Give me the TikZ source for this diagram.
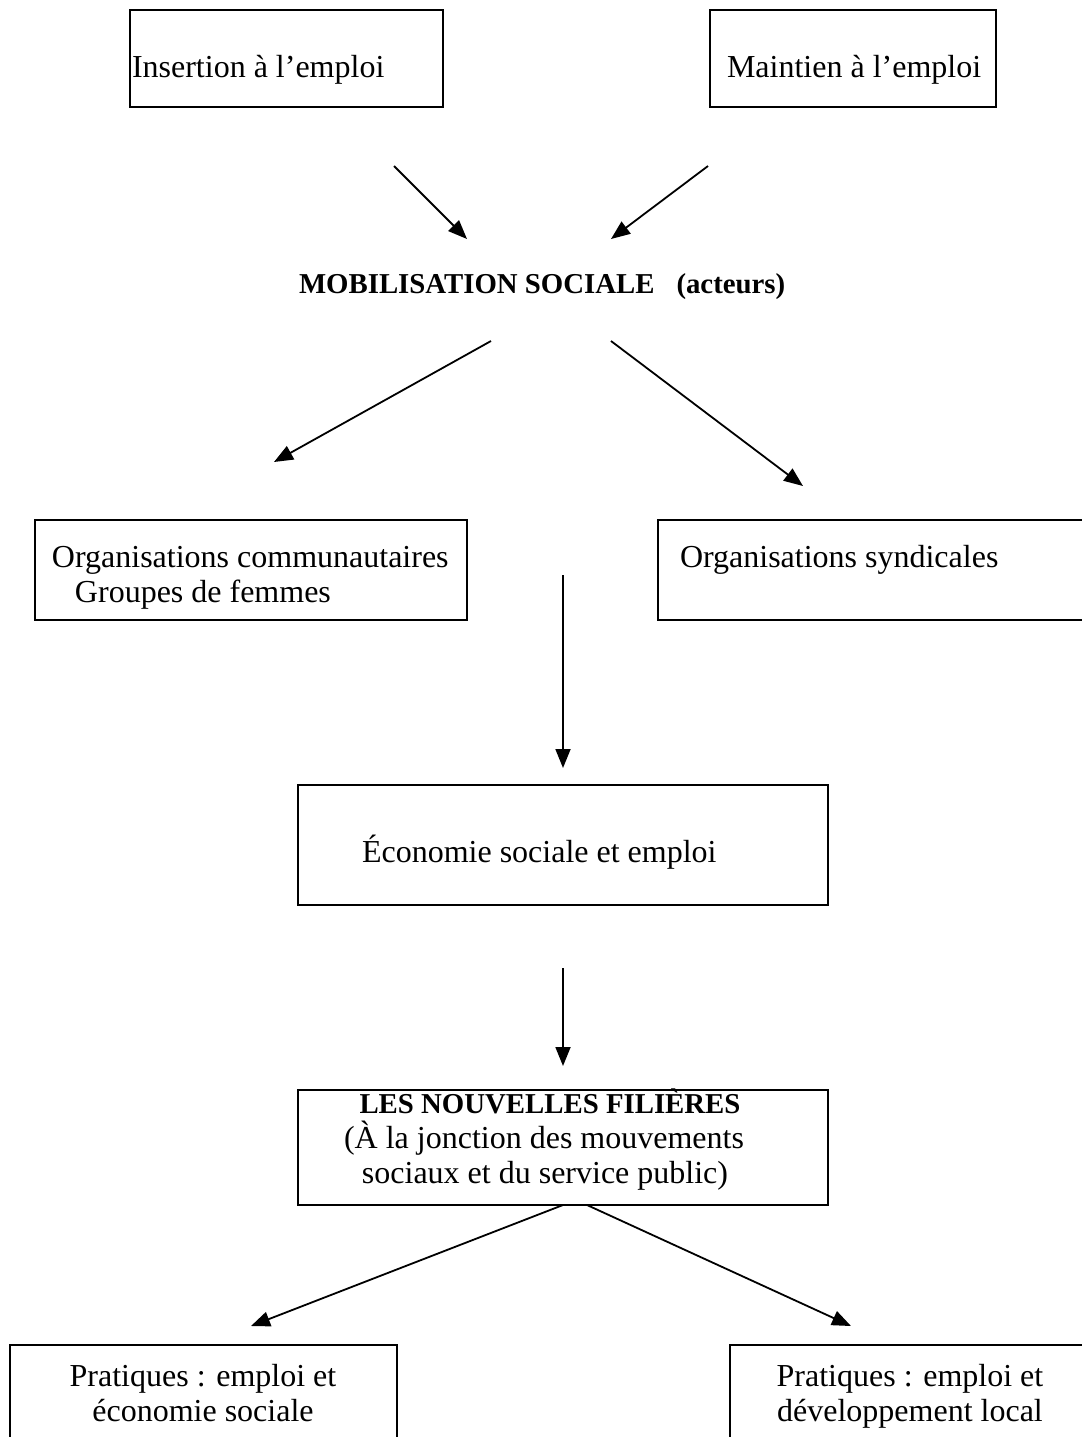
\documentclass[tikz,border=0pt]{standalone}
\usepackage{fontspec}
\setmainfont{Liberation Serif}
\usetikzlibrary{arrows.meta}
\tikzset{
  boxnode/.style 2 args={draw=black, line width=1pt, inner sep=0pt, outer sep=0pt,
    minimum width=#1, minimum height=#2},
  txt/.style={inner sep=0pt, outer sep=0pt, font=\fontsize{16}{17.5}\selectfont},
  btxt/.style={inner sep=0pt, outer sep=0pt, font=\fontsize{14.4}{17.5}\selectfont\bfseries},
  conn/.style={line width=0.9pt, -{Triangle[length=9.5pt,width=7.5pt]}}
}
\begin{document}
\begin{tikzpicture}[x=0.5pt,y=-0.5pt]
\useasboundingbox (0,0) rectangle (1082,1437);
\fill[white] (0,0) rectangle (1082,1437);
\begin{scope}
\clip (0,0) rectangle (1082,1437);
% boxes
\node[boxnode={156.5pt}{48.5pt}] (b1) at (286.5,58.5) {};
\node[boxnode={143pt}{48.5pt}] (b2) at (853,58.5) {};
\node[boxnode={216pt}{50pt}] (b3) at (251,570) {};
\node[boxnode={226pt}{50pt}] (b4) at (884,570) {};
\node[boxnode={265pt}{60pt}] (b5) at (563,845) {};
\node[boxnode={265pt}{57.5pt}] (b6) at (563,1147.5) {};
\node[boxnode={193.5pt}{62.5pt}] (b7) at (203.5,1407.5) {};
\node[boxnode={190pt}{62.5pt}] (b8) at (920,1407.5) {};
% texts
\node[txt, anchor=base west] (t1) at (132,77) {Insertion à l’emploi};
\node[txt, anchor=base west] (t2) at (727,77) {Maintien à l’emploi};
\node[btxt, anchor=base west] (mob) at (299,293) {MOBILISATION SOCIALE\hspace{11pt}(acteurs)};
\node[txt, anchor=base west] (t3a) at (52,567) {Organisations communautaires};
\node[txt, anchor=base west] (t3b) at (75,602) {Groupes de femmes};
\node[txt, anchor=base west] (t4) at (680,567) {Organisations syndicales};
\node[txt, anchor=base west] (t5) at (362,862) {Économie sociale et emploi};
\node[btxt, anchor=base] (t6a) at (550,1113) {LES NOUVELLES FILIÈRES};
\node[txt, anchor=base] (t6b) at (544,1148) {(À la jonction des mouvements};
\node[txt, anchor=base] (t6c) at (545,1183) {sociaux et du service public)};
\node[txt, anchor=base] (t7a) at (203,1386) {Pratiques : emploi et};
\node[txt, anchor=base] (t7b) at (203,1421) {économie sociale};
\node[txt, anchor=base] (t8a) at (910,1386) {Pratiques : emploi et};
\node[txt, anchor=base] (t8b) at (910,1421) {développement local};
% connector endpoints
\coordinate (a1s) at (394,166);
\coordinate (a1e) at (467,239);
\coordinate (a2s) at (708,166);
\coordinate (a2e) at (611,239);
\coordinate (a3s) at (491,341);
\coordinate (a3e) at (274,462);
\coordinate (a4s) at (611,341);
\coordinate (a4e) at (803,486);
\coordinate (a5s) at (563,575);
\coordinate (a5e) at (563,768);
\coordinate (a6s) at (563,968);
\coordinate (a6e) at (563,1066);
\coordinate (a7s) at (563,1205);
\coordinate (a7e) at (251,1326);
\coordinate (a8s) at (587,1205);
\coordinate (a8e) at (851,1326);
\draw[conn] (a1s) -- (a1e);
\draw[conn] (a2s) -- (a2e);
\draw[conn] (a3s) -- (a3e);
\draw[conn] (a4s) -- (a4e);
\draw[conn] (a5s) -- (a5e);
\draw[conn] (a6s) -- (a6e);
\draw[conn] (a7s) -- (a7e);
\draw[conn] (a8s) -- (a8e);
\end{scope}
\end{tikzpicture}
\end{document}
